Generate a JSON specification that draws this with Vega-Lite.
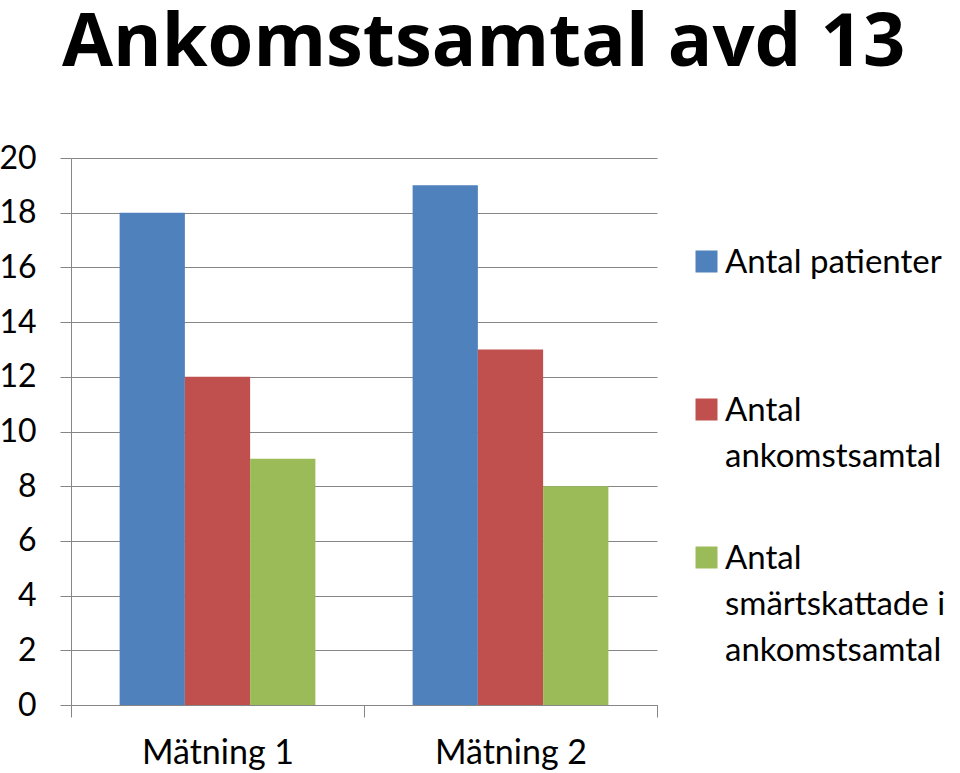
{
  "$schema": "https://vega.github.io/schema/vega-lite/v6.json",
  "width": 586,
  "height": 547,
  "autosize": "none",
  "padding": {"left": 71, "top": 158, "right": 303, "bottom": 68},
  "background": "white",
  "title": {
    "text": "Ankomstsamtal avd 13",
    "font": "Open Sans",
    "fontWeight": "bold",
    "fontSize": 74,
    "color": "black",
    "anchor": "start",
    "frame": "group",
    "dx": -9,
    "baseline": "alphabetic",
    "offset": 2
  },
  "data": {
    "values": [
      {"matning": "Mätning 1", "serie": "Antal patienter", "antal": 18},
      {"matning": "Mätning 1", "serie": "Antal ankomstsamtal", "antal": 12},
      {"matning": "Mätning 1", "serie": "Antal smärtskattade i ankomstsamtal", "antal": 9},
      {"matning": "Mätning 2", "serie": "Antal patienter", "antal": 19},
      {"matning": "Mätning 2", "serie": "Antal ankomstsamtal", "antal": 13},
      {"matning": "Mätning 2", "serie": "Antal smärtskattade i ankomstsamtal", "antal": 8}
    ]
  },
  "config": {
    "view": {"stroke": null},
    "font": "Lato"
  },
  "mark": {"type": "bar"},
  "encoding": {
    "x": {
      "field": "matning",
      "type": "nominal",
      "scale": {"paddingInner": 0, "paddingOuter": 0},
      "axis": {
        "title": null,
        "labelAngle": 0,
        "labelFont": "Lato",
        "labelFontSize": 34,
        "labelColor": "black",
        "labelPadding": 19,
        "tickBand": "extent",
        "tickSize": 12,
        "tickColor": "#868686",
        "domainColor": "#868686",
        "grid": false
      }
    },
    "xOffset": {
      "field": "serie",
      "type": "nominal",
      "sort": ["Antal patienter", "Antal ankomstsamtal", "Antal smärtskattade i ankomstsamtal"],
      "scale": {"paddingInner": 0, "paddingOuter": 0.745}
    },
    "y": {
      "field": "antal",
      "type": "quantitative",
      "scale": {"domain": [0, 20], "nice": false},
      "axis": {
        "title": null,
        "values": [0, 2, 4, 6, 8, 10, 12, 14, 16, 18, 20],
        "labelFont": "Lato",
        "labelFontSize": 32,
        "labelColor": "black",
        "labelPadding": 24,
        "tickSize": 11,
        "tickColor": "#868686",
        "domainColor": "#868686",
        "gridColor": "#868686",
        "grid": true
      }
    },
    "color": {
      "field": "serie",
      "type": "nominal",
      "scale": {
        "domain": ["Antal patienter", "Antal ankomstsamtal", "Antal smärtskattade i ankomstsamtal"],
        "range": ["#4F81BD", "#C0504D", "#9BBB59"]
      },
      "legend": {
        "title": null,
        "orient": "none",
        "legendX": 619,
        "legendY": 87,
        "padding": 0,
        "symbolType": "square",
        "symbolSize": 484,
        "symbolStrokeWidth": 0,
        "symbolOpacity": 1,
        "labelFont": "Lato",
        "labelFontSize": 33,
        "labelColor": "black",
        "labelLimit": 400,
        "labelOffset": 2,
        "labelBaseline": "alphabetic",
        "rowPadding": 21,
        "labelExpr": "datum.label == 'Antal patienter' ? ['Antal patienter', '', ''] : datum.label == 'Antal ankomstsamtal' ? ['Antal', 'ankomstsamtal', ''] : ['Antal', 'smärtskattade i', 'ankomstsamtal']",
        "encode": {
          "labels": {"update": {"lineHeight": {"value": 46}, "dy": {"value": 11}}}
        }
      }
    }
  }
}
